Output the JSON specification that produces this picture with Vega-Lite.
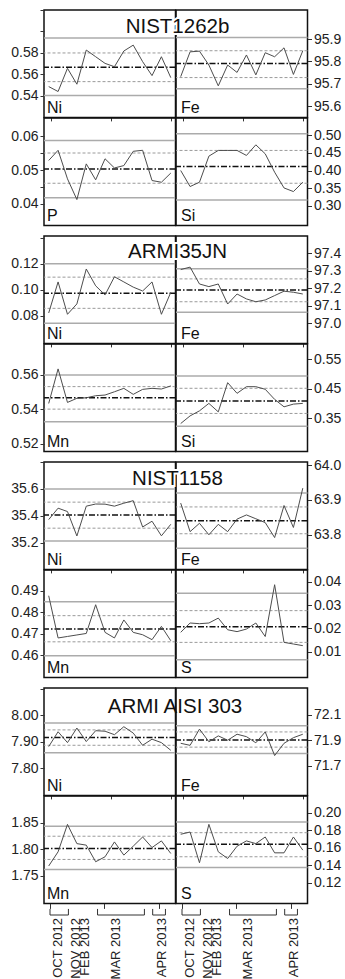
{
"$schema":"https://vega.github.io/schema/vega-lite/v6.json",
"background":"white",
"padding":{"left":10,"top":2,"right":2,"bottom":2},
"config":{
 "font":"Liberation Sans",
 "view":{"stroke":"#111111","strokeWidth":1.5},
 "axis":{"labelFontSize":14,"labelColor":"#222222","tickColor":"#333333","tickWidth":1,"tickSize":4,"labelPadding":2,"domain":false,"grid":false,"labelOverlap":false,"labelFlush":false}
},
"datasets":{
"brackets":[
 {"month":"OCT 2012","start":1.14,"end":3.1},
 {"month":"MAR 2013","start":6.2,"end":11.19},
 {"month":"APR 2013","start":12.07,"end":13.43}
],
"months":[
 {"month":"OCT 2012","pos":2.0},
 {"month":"NOV 2012","pos":3.92},
 {"month":"FEB 2013","pos":4.91},
 {"month":"MAR 2013","pos":8.16},
 {"month":"APR 2013","pos":13.11}
],
"qc":[
{"m":"NIST1262b","el":"Ni","k":"mean","v":0.5667},{"m":"NIST1262b","el":"Ni","k":"warn","v":0.58},{"m":"NIST1262b","el":"Ni","k":"warn","v":0.5533},{"m":"NIST1262b","el":"Ni","k":"ctrl","v":0.594},{"m":"NIST1262b","el":"Ni","k":"ctrl","v":0.5404},
{"m":"NIST1262b","el":"Ni","k":"obs","i":1,"v":0.5487},{"m":"NIST1262b","el":"Ni","k":"obs","i":2,"v":0.5441},{"m":"NIST1262b","el":"Ni","k":"obs","i":3,"v":0.5657},{"m":"NIST1262b","el":"Ni","k":"obs","i":4,"v":0.5509},{"m":"NIST1262b","el":"Ni","k":"obs","i":5,"v":0.5827},{"m":"NIST1262b","el":"Ni","k":"obs","i":6,"v":0.5765},{"m":"NIST1262b","el":"Ni","k":"obs","i":7,"v":0.5703},{"m":"NIST1262b","el":"Ni","k":"obs","i":8,"v":0.5672},{"m":"NIST1262b","el":"Ni","k":"obs","i":9,"v":0.5818},{"m":"NIST1262b","el":"Ni","k":"obs","i":10,"v":0.5873},{"m":"NIST1262b","el":"Ni","k":"obs","i":11,"v":0.5719},{"m":"NIST1262b","el":"Ni","k":"obs","i":12,"v":0.5589},{"m":"NIST1262b","el":"Ni","k":"obs","i":13,"v":0.5765},{"m":"NIST1262b","el":"Ni","k":"obs","i":14,"v":0.557},
{"m":"NIST1262b","el":"Fe","k":"mean","v":95.791},{"m":"NIST1262b","el":"Fe","k":"warn","v":95.848},{"m":"NIST1262b","el":"Fe","k":"warn","v":95.728},{"m":"NIST1262b","el":"Fe","k":"ctrl","v":95.907},{"m":"NIST1262b","el":"Fe","k":"ctrl","v":95.678},
{"m":"NIST1262b","el":"Fe","k":"obs","i":1,"v":95.732},{"m":"NIST1262b","el":"Fe","k":"obs","i":2,"v":95.843},{"m":"NIST1262b","el":"Fe","k":"obs","i":3,"v":95.846},{"m":"NIST1262b","el":"Fe","k":"obs","i":4,"v":95.784},{"m":"NIST1262b","el":"Fe","k":"obs","i":5,"v":95.691},{"m":"NIST1262b","el":"Fe","k":"obs","i":6,"v":95.784},{"m":"NIST1262b","el":"Fe","k":"obs","i":7,"v":95.751},{"m":"NIST1262b","el":"Fe","k":"obs","i":8,"v":95.829},{"m":"NIST1262b","el":"Fe","k":"obs","i":9,"v":95.74},{"m":"NIST1262b","el":"Fe","k":"obs","i":10,"v":95.839},{"m":"NIST1262b","el":"Fe","k":"obs","i":11,"v":95.821},{"m":"NIST1262b","el":"Fe","k":"obs","i":12,"v":95.861},{"m":"NIST1262b","el":"Fe","k":"obs","i":13,"v":95.742},{"m":"NIST1262b","el":"Fe","k":"obs","i":14,"v":95.848},
{"m":"NIST1262b","el":"P","k":"mean","v":0.0503},{"m":"NIST1262b","el":"P","k":"warn","v":0.055},{"m":"NIST1262b","el":"P","k":"warn","v":0.0461},{"m":"NIST1262b","el":"P","k":"ctrl","v":0.0587},{"m":"NIST1262b","el":"P","k":"ctrl","v":0.0418},
{"m":"NIST1262b","el":"P","k":"obs","i":1,"v":0.0528},{"m":"NIST1262b","el":"P","k":"obs","i":2,"v":0.0558},{"m":"NIST1262b","el":"P","k":"obs","i":3,"v":0.0474},{"m":"NIST1262b","el":"P","k":"obs","i":4,"v":0.0413},{"m":"NIST1262b","el":"P","k":"obs","i":5,"v":0.0518},{"m":"NIST1262b","el":"P","k":"obs","i":6,"v":0.0471},{"m":"NIST1262b","el":"P","k":"obs","i":7,"v":0.0533},{"m":"NIST1262b","el":"P","k":"obs","i":8,"v":0.0506},{"m":"NIST1262b","el":"P","k":"obs","i":9,"v":0.0513},{"m":"NIST1262b","el":"P","k":"obs","i":10,"v":0.0555},{"m":"NIST1262b","el":"P","k":"obs","i":11,"v":0.0558},{"m":"NIST1262b","el":"P","k":"obs","i":12,"v":0.0469},{"m":"NIST1262b","el":"P","k":"obs","i":13,"v":0.0464},{"m":"NIST1262b","el":"P","k":"obs","i":14,"v":0.0491},
{"m":"NIST1262b","el":"Si","k":"mean","v":0.4118},{"m":"NIST1262b","el":"Si","k":"warn","v":0.4572},{"m":"NIST1262b","el":"Si","k":"warn","v":0.3643},{"m":"NIST1262b","el":"Si","k":"ctrl","v":0.5044},{"m":"NIST1262b","el":"Si","k":"ctrl","v":0.3169},
{"m":"NIST1262b","el":"Si","k":"obs","i":1,"v":0.4004},{"m":"NIST1262b","el":"Si","k":"obs","i":2,"v":0.355},{"m":"NIST1262b","el":"Si","k":"obs","i":3,"v":0.3672},{"m":"NIST1262b","el":"Si","k":"obs","i":4,"v":0.441},{"m":"NIST1262b","el":"Si","k":"obs","i":5,"v":0.4572},{"m":"NIST1262b","el":"Si","k":"obs","i":6,"v":0.4572},{"m":"NIST1262b","el":"Si","k":"obs","i":7,"v":0.4572},{"m":"NIST1262b","el":"Si","k":"obs","i":8,"v":0.443},{"m":"NIST1262b","el":"Si","k":"obs","i":9,"v":0.4731},{"m":"NIST1262b","el":"Si","k":"obs","i":10,"v":0.4476},{"m":"NIST1262b","el":"Si","k":"obs","i":11,"v":0.3956},{"m":"NIST1262b","el":"Si","k":"obs","i":12,"v":0.351},{"m":"NIST1262b","el":"Si","k":"obs","i":13,"v":0.3408},{"m":"NIST1262b","el":"Si","k":"obs","i":14,"v":0.3672},
{"m":"ARMI35JN","el":"Ni","k":"mean","v":0.0973},{"m":"ARMI35JN","el":"Ni","k":"warn","v":0.1097},{"m":"ARMI35JN","el":"Ni","k":"warn","v":0.0856},{"m":"ARMI35JN","el":"Ni","k":"ctrl","v":0.12},{"m":"ARMI35JN","el":"Ni","k":"ctrl","v":0.074},
{"m":"ARMI35JN","el":"Ni","k":"obs","i":1,"v":0.082},{"m":"ARMI35JN","el":"Ni","k":"obs","i":2,"v":0.106},{"m":"ARMI35JN","el":"Ni","k":"obs","i":3,"v":0.081},{"m":"ARMI35JN","el":"Ni","k":"obs","i":4,"v":0.089},{"m":"ARMI35JN","el":"Ni","k":"obs","i":5,"v":0.116},{"m":"ARMI35JN","el":"Ni","k":"obs","i":6,"v":0.103},{"m":"ARMI35JN","el":"Ni","k":"obs","i":7,"v":0.096},{"m":"ARMI35JN","el":"Ni","k":"obs","i":8,"v":0.11},{"m":"ARMI35JN","el":"Ni","k":"obs","i":9,"v":0.106},{"m":"ARMI35JN","el":"Ni","k":"obs","i":10,"v":0.102},{"m":"ARMI35JN","el":"Ni","k":"obs","i":11,"v":0.099},{"m":"ARMI35JN","el":"Ni","k":"obs","i":12,"v":0.106},{"m":"ARMI35JN","el":"Ni","k":"obs","i":13,"v":0.081},{"m":"ARMI35JN","el":"Ni","k":"obs","i":14,"v":0.098},
{"m":"ARMI35JN","el":"Fe","k":"mean","v":97.19},{"m":"ARMI35JN","el":"Fe","k":"warn","v":97.253},{"m":"ARMI35JN","el":"Fe","k":"warn","v":97.123},{"m":"ARMI35JN","el":"Fe","k":"ctrl","v":97.31},{"m":"ARMI35JN","el":"Fe","k":"ctrl","v":97.063},
{"m":"ARMI35JN","el":"Fe","k":"obs","i":1,"v":97.306},{"m":"ARMI35JN","el":"Fe","k":"obs","i":2,"v":97.32},{"m":"ARMI35JN","el":"Fe","k":"obs","i":3,"v":97.224},{"m":"ARMI35JN","el":"Fe","k":"obs","i":4,"v":97.209},{"m":"ARMI35JN","el":"Fe","k":"obs","i":5,"v":97.224},{"m":"ARMI35JN","el":"Fe","k":"obs","i":6,"v":97.11},{"m":"ARMI35JN","el":"Fe","k":"obs","i":7,"v":97.167},{"m":"ARMI35JN","el":"Fe","k":"obs","i":8,"v":97.139},{"m":"ARMI35JN","el":"Fe","k":"obs","i":9,"v":97.123},{"m":"ARMI35JN","el":"Fe","k":"obs","i":10,"v":97.133},{"m":"ARMI35JN","el":"Fe","k":"obs","i":11,"v":97.158},{"m":"ARMI35JN","el":"Fe","k":"obs","i":12,"v":97.183},{"m":"ARMI35JN","el":"Fe","k":"obs","i":13,"v":97.177},{"m":"ARMI35JN","el":"Fe","k":"obs","i":14,"v":97.167},
{"m":"ARMI35JN","el":"Mn","k":"mean","v":0.5467},{"m":"ARMI35JN","el":"Mn","k":"warn","v":0.5532},{"m":"ARMI35JN","el":"Mn","k":"warn","v":0.5401},{"m":"ARMI35JN","el":"Mn","k":"ctrl","v":0.56},{"m":"ARMI35JN","el":"Mn","k":"ctrl","v":0.5327},
{"m":"ARMI35JN","el":"Mn","k":"obs","i":1,"v":0.5434},{"m":"ARMI35JN","el":"Mn","k":"obs","i":2,"v":0.5635},{"m":"ARMI35JN","el":"Mn","k":"obs","i":3,"v":0.544},{"m":"ARMI35JN","el":"Mn","k":"obs","i":4,"v":0.5464},{"m":"ARMI35JN","el":"Mn","k":"obs","i":5,"v":0.5467},{"m":"ARMI35JN","el":"Mn","k":"obs","i":6,"v":0.5479},{"m":"ARMI35JN","el":"Mn","k":"obs","i":7,"v":0.5483},{"m":"ARMI35JN","el":"Mn","k":"obs","i":8,"v":0.5502},{"m":"ARMI35JN","el":"Mn","k":"obs","i":9,"v":0.5522},{"m":"ARMI35JN","el":"Mn","k":"obs","i":10,"v":0.5487},{"m":"ARMI35JN","el":"Mn","k":"obs","i":11,"v":0.5516},{"m":"ARMI35JN","el":"Mn","k":"obs","i":12,"v":0.5522},{"m":"ARMI35JN","el":"Mn","k":"obs","i":13,"v":0.5518},{"m":"ARMI35JN","el":"Mn","k":"obs","i":14,"v":0.5536},
{"m":"ARMI35JN","el":"Si","k":"mean","v":0.4086},{"m":"ARMI35JN","el":"Si","k":"warn","v":0.4517},{"m":"ARMI35JN","el":"Si","k":"warn","v":0.367},{"m":"ARMI35JN","el":"Si","k":"ctrl","v":0.4933},{"m":"ARMI35JN","el":"Si","k":"ctrl","v":0.3237},
{"m":"ARMI35JN","el":"Si","k":"obs","i":1,"v":0.333},{"m":"ARMI35JN","el":"Si","k":"obs","i":2,"v":0.3588},{"m":"ARMI35JN","el":"Si","k":"obs","i":3,"v":0.3757},{"m":"ARMI35JN","el":"Si","k":"obs","i":4,"v":0.4008},{"m":"ARMI35JN","el":"Si","k":"obs","i":5,"v":0.3723},{"m":"ARMI35JN","el":"Si","k":"obs","i":6,"v":0.4706},{"m":"ARMI35JN","el":"Si","k":"obs","i":7,"v":0.4347},{"m":"ARMI35JN","el":"Si","k":"obs","i":8,"v":0.4571},{"m":"ARMI35JN","el":"Si","k":"obs","i":9,"v":0.4571},{"m":"ARMI35JN","el":"Si","k":"obs","i":10,"v":0.4483},{"m":"ARMI35JN","el":"Si","k":"obs","i":11,"v":0.4144},{"m":"ARMI35JN","el":"Si","k":"obs","i":12,"v":0.3893},{"m":"ARMI35JN","el":"Si","k":"obs","i":13,"v":0.3984},{"m":"ARMI35JN","el":"Si","k":"obs","i":14,"v":0.4008},
{"m":"NIST1158","el":"Ni","k":"mean","v":35.406},{"m":"NIST1158","el":"Ni","k":"warn","v":35.501},{"m":"NIST1158","el":"Ni","k":"warn","v":35.307},{"m":"NIST1158","el":"Ni","k":"ctrl","v":35.598},{"m":"NIST1158","el":"Ni","k":"ctrl","v":35.212},
{"m":"NIST1158","el":"Ni","k":"obs","i":1,"v":35.371},{"m":"NIST1158","el":"Ni","k":"obs","i":2,"v":35.456},{"m":"NIST1158","el":"Ni","k":"obs","i":3,"v":35.431},{"m":"NIST1158","el":"Ni","k":"obs","i":4,"v":35.249},{"m":"NIST1158","el":"Ni","k":"obs","i":5,"v":35.471},{"m":"NIST1158","el":"Ni","k":"obs","i":6,"v":35.487},{"m":"NIST1158","el":"Ni","k":"obs","i":7,"v":35.486},{"m":"NIST1158","el":"Ni","k":"obs","i":8,"v":35.471},{"m":"NIST1158","el":"Ni","k":"obs","i":9,"v":35.493},{"m":"NIST1158","el":"Ni","k":"obs","i":10,"v":35.512},{"m":"NIST1158","el":"Ni","k":"obs","i":11,"v":35.316},{"m":"NIST1158","el":"Ni","k":"obs","i":12,"v":35.359},{"m":"NIST1158","el":"Ni","k":"obs","i":13,"v":35.25},{"m":"NIST1158","el":"Ni","k":"obs","i":14,"v":35.336},
{"m":"NIST1158","el":"Fe","k":"mean","v":63.84},{"m":"NIST1158","el":"Fe","k":"warn","v":63.88},{"m":"NIST1158","el":"Fe","k":"warn","v":63.803},{"m":"NIST1158","el":"Fe","k":"ctrl","v":63.92},{"m":"NIST1158","el":"Fe","k":"ctrl","v":63.761},
{"m":"NIST1158","el":"Fe","k":"obs","i":1,"v":63.891},{"m":"NIST1158","el":"Fe","k":"obs","i":2,"v":63.809},{"m":"NIST1158","el":"Fe","k":"obs","i":3,"v":63.833},{"m":"NIST1158","el":"Fe","k":"obs","i":4,"v":63.8},{"m":"NIST1158","el":"Fe","k":"obs","i":5,"v":63.83},{"m":"NIST1158","el":"Fe","k":"obs","i":6,"v":63.809},{"m":"NIST1158","el":"Fe","k":"obs","i":7,"v":63.845},{"m":"NIST1158","el":"Fe","k":"obs","i":8,"v":63.857},{"m":"NIST1158","el":"Fe","k":"obs","i":9,"v":63.846},{"m":"NIST1158","el":"Fe","k":"obs","i":10,"v":63.835},{"m":"NIST1158","el":"Fe","k":"obs","i":11,"v":63.792},{"m":"NIST1158","el":"Fe","k":"obs","i":12,"v":63.884},{"m":"NIST1158","el":"Fe","k":"obs","i":13,"v":63.821},{"m":"NIST1158","el":"Fe","k":"obs","i":14,"v":63.934},
{"m":"NIST1158","el":"Mn","k":"mean","v":0.4722},{"m":"NIST1158","el":"Mn","k":"warn","v":0.4784},{"m":"NIST1158","el":"Mn","k":"warn","v":0.4662},{"m":"NIST1158","el":"Mn","k":"ctrl","v":0.4849},{"m":"NIST1158","el":"Mn","k":"ctrl","v":0.4597},
{"m":"NIST1158","el":"Mn","k":"obs","i":1,"v":0.4877},{"m":"NIST1158","el":"Mn","k":"obs","i":2,"v":0.468},{"m":"NIST1158","el":"Mn","k":"obs","i":3,"v":0.4687},{"m":"NIST1158","el":"Mn","k":"obs","i":4,"v":0.4694},{"m":"NIST1158","el":"Mn","k":"obs","i":5,"v":0.4701},{"m":"NIST1158","el":"Mn","k":"obs","i":6,"v":0.4835},{"m":"NIST1158","el":"Mn","k":"obs","i":7,"v":0.4706},{"m":"NIST1158","el":"Mn","k":"obs","i":8,"v":0.468},{"m":"NIST1158","el":"Mn","k":"obs","i":9,"v":0.4764},{"m":"NIST1158","el":"Mn","k":"obs","i":10,"v":0.4706},{"m":"NIST1158","el":"Mn","k":"obs","i":11,"v":0.4695},{"m":"NIST1158","el":"Mn","k":"obs","i":12,"v":0.4672},{"m":"NIST1158","el":"Mn","k":"obs","i":13,"v":0.4734},{"m":"NIST1158","el":"Mn","k":"obs","i":14,"v":0.4667},
{"m":"NIST1158","el":"S","k":"mean","v":0.0207},{"m":"NIST1158","el":"S","k":"warn","v":0.0276},{"m":"NIST1158","el":"S","k":"warn","v":0.014},{"m":"NIST1158","el":"S","k":"ctrl","v":0.035},{"m":"NIST1158","el":"S","k":"ctrl","v":0.0066},
{"m":"NIST1158","el":"S","k":"obs","i":1,"v":0.0183},{"m":"NIST1158","el":"S","k":"obs","i":2,"v":0.0223},{"m":"NIST1158","el":"S","k":"obs","i":3,"v":0.022},{"m":"NIST1158","el":"S","k":"obs","i":4,"v":0.0223},{"m":"NIST1158","el":"S","k":"obs","i":5,"v":0.0244},{"m":"NIST1158","el":"S","k":"obs","i":6,"v":0.0194},{"m":"NIST1158","el":"S","k":"obs","i":7,"v":0.0186},{"m":"NIST1158","el":"S","k":"obs","i":8,"v":0.0197},{"m":"NIST1158","el":"S","k":"obs","i":9,"v":0.0223},{"m":"NIST1158","el":"S","k":"obs","i":10,"v":0.0165},{"m":"NIST1158","el":"S","k":"obs","i":11,"v":0.0387},{"m":"NIST1158","el":"S","k":"obs","i":12,"v":0.014},{"m":"NIST1158","el":"S","k":"obs","i":13,"v":0.0133},{"m":"NIST1158","el":"S","k":"obs","i":14,"v":0.0126},
{"m":"ARMI AISI 303","el":"Ni","k":"mean","v":7.915},{"m":"ARMI AISI 303","el":"Ni","k":"warn","v":7.944},{"m":"ARMI AISI 303","el":"Ni","k":"warn","v":7.886},{"m":"ARMI AISI 303","el":"Ni","k":"ctrl","v":7.97},{"m":"ARMI AISI 303","el":"Ni","k":"ctrl","v":7.858},
{"m":"ARMI AISI 303","el":"Ni","k":"obs","i":1,"v":7.881},{"m":"ARMI AISI 303","el":"Ni","k":"obs","i":2,"v":7.937},{"m":"ARMI AISI 303","el":"Ni","k":"obs","i":3,"v":7.896},{"m":"ARMI AISI 303","el":"Ni","k":"obs","i":4,"v":7.951},{"m":"ARMI AISI 303","el":"Ni","k":"obs","i":5,"v":7.9},{"m":"ARMI AISI 303","el":"Ni","k":"obs","i":6,"v":7.941},{"m":"ARMI AISI 303","el":"Ni","k":"obs","i":7,"v":7.939},{"m":"ARMI AISI 303","el":"Ni","k":"obs","i":8,"v":7.926},{"m":"ARMI AISI 303","el":"Ni","k":"obs","i":9,"v":7.956},{"m":"ARMI AISI 303","el":"Ni","k":"obs","i":10,"v":7.932},{"m":"ARMI AISI 303","el":"Ni","k":"obs","i":11,"v":7.886},{"m":"ARMI AISI 303","el":"Ni","k":"obs","i":12,"v":7.909},{"m":"ARMI AISI 303","el":"Ni","k":"obs","i":13,"v":7.896},{"m":"ARMI AISI 303","el":"Ni","k":"obs","i":14,"v":7.867},
{"m":"ARMI AISI 303","el":"Fe","k":"mean","v":71.902},{"m":"ARMI AISI 303","el":"Fe","k":"warn","v":71.965},{"m":"ARMI AISI 303","el":"Fe","k":"warn","v":71.846},{"m":"ARMI AISI 303","el":"Fe","k":"ctrl","v":72.013},{"m":"ARMI AISI 303","el":"Fe","k":"ctrl","v":71.796},
{"m":"ARMI AISI 303","el":"Fe","k":"obs","i":1,"v":71.876},{"m":"ARMI AISI 303","el":"Fe","k":"obs","i":2,"v":71.86},{"m":"ARMI AISI 303","el":"Fe","k":"obs","i":3,"v":71.987},{"m":"ARMI AISI 303","el":"Fe","k":"obs","i":4,"v":71.888},{"m":"ARMI AISI 303","el":"Fe","k":"obs","i":5,"v":71.934},{"m":"ARMI AISI 303","el":"Fe","k":"obs","i":6,"v":71.9},{"m":"ARMI AISI 303","el":"Fe","k":"obs","i":7,"v":71.947},{"m":"ARMI AISI 303","el":"Fe","k":"obs","i":8,"v":71.928},{"m":"ARMI AISI 303","el":"Fe","k":"obs","i":9,"v":71.88},{"m":"ARMI AISI 303","el":"Fe","k":"obs","i":10,"v":71.965},{"m":"ARMI AISI 303","el":"Fe","k":"obs","i":11,"v":71.78},{"m":"ARMI AISI 303","el":"Fe","k":"obs","i":12,"v":71.876},{"m":"ARMI AISI 303","el":"Fe","k":"obs","i":13,"v":71.92},{"m":"ARMI AISI 303","el":"Fe","k":"obs","i":14,"v":71.947},
{"m":"ARMI AISI 303","el":"Mn","k":"mean","v":1.8015},{"m":"ARMI AISI 303","el":"Mn","k":"warn","v":1.8247},{"m":"ARMI AISI 303","el":"Mn","k":"warn","v":1.781},{"m":"ARMI AISI 303","el":"Mn","k":"ctrl","v":1.8433},{"m":"ARMI AISI 303","el":"Mn","k":"ctrl","v":1.7623},
{"m":"ARMI AISI 303","el":"Mn","k":"obs","i":1,"v":1.7687},{"m":"ARMI AISI 303","el":"Mn","k":"obs","i":2,"v":1.7954},{"m":"ARMI AISI 303","el":"Mn","k":"obs","i":3,"v":1.847},{"m":"ARMI AISI 303","el":"Mn","k":"obs","i":4,"v":1.8108},{"m":"ARMI AISI 303","el":"Mn","k":"obs","i":5,"v":1.8079},{"m":"ARMI AISI 303","el":"Mn","k":"obs","i":6,"v":1.7767},{"m":"ARMI AISI 303","el":"Mn","k":"obs","i":7,"v":1.786},{"m":"ARMI AISI 303","el":"Mn","k":"obs","i":8,"v":1.814},{"m":"ARMI AISI 303","el":"Mn","k":"obs","i":9,"v":1.7892},{"m":"ARMI AISI 303","el":"Mn","k":"obs","i":10,"v":1.806},{"m":"ARMI AISI 303","el":"Mn","k":"obs","i":11,"v":1.8233},{"m":"ARMI AISI 303","el":"Mn","k":"obs","i":12,"v":1.8034},{"m":"ARMI AISI 303","el":"Mn","k":"obs","i":13,"v":1.8159},{"m":"ARMI AISI 303","el":"Mn","k":"obs","i":14,"v":1.7922},
{"m":"ARMI AISI 303","el":"S","k":"mean","v":0.164},{"m":"ARMI AISI 303","el":"S","k":"warn","v":0.1772},{"m":"ARMI AISI 303","el":"S","k":"warn","v":0.1496},{"m":"ARMI AISI 303","el":"S","k":"ctrl","v":0.1894},{"m":"ARMI AISI 303","el":"S","k":"ctrl","v":0.1374},
{"m":"ARMI AISI 303","el":"S","k":"obs","i":1,"v":0.1754},{"m":"ARMI AISI 303","el":"S","k":"obs","i":2,"v":0.178},{"m":"ARMI AISI 303","el":"S","k":"obs","i":3,"v":0.1427},{"m":"ARMI AISI 303","el":"S","k":"obs","i":4,"v":0.1868},{"m":"ARMI AISI 303","el":"S","k":"obs","i":5,"v":0.1553},{"m":"ARMI AISI 303","el":"S","k":"obs","i":6,"v":0.1476},{"m":"ARMI AISI 303","el":"S","k":"obs","i":7,"v":0.1617},{"m":"ARMI AISI 303","el":"S","k":"obs","i":8,"v":0.1678},{"m":"ARMI AISI 303","el":"S","k":"obs","i":9,"v":0.1647},{"m":"ARMI AISI 303","el":"S","k":"obs","i":10,"v":0.1723},{"m":"ARMI AISI 303","el":"S","k":"obs","i":11,"v":0.1541},{"m":"ARMI AISI 303","el":"S","k":"obs","i":12,"v":0.1541},{"m":"ARMI AISI 303","el":"S","k":"obs","i":13,"v":0.1723},{"m":"ARMI AISI 303","el":"S","k":"obs","i":14,"v":0.1572}
]},
"data":{"name":"qc"},
"columns":2,"spacing":0,"bounds":"flush",
"concat":[
  {"width":131.5,"height":107.4,"transform":[{"filter":"datum.m==='NIST1262b' && datum.el==='Ni'"}],
   "encoding":{"y":{"field":"v","type":"quantitative","scale":{"domain":[0.52,0.62],"nice":false,"zero":false},"axis":{"orient":"left","values":[0.54,0.56,0.58,0.6,0.62],"format":".2f","labelExpr":"datum.value > 0.59 ? '' : datum.label","title":null}}},
   "layer":[
    {"transform":[{"filter":"datum.k==='ctrl'"}],"mark":{"type":"rule","stroke":"#ababab","strokeWidth":1.5}},
    {"transform":[{"filter":"datum.k==='warn'"}],"mark":{"type":"rule","stroke":"#9a9a9a","strokeWidth":1,"strokeDash":[3,2]}},
    {"transform":[{"filter":"datum.k==='mean'"}],"mark":{"type":"rule","stroke":"#111111","strokeWidth":1.5,"strokeDash":[6,2,1.5,2]}},
    {"transform":[{"filter":"datum.k==='obs'"}],"mark":{"type":"line","stroke":"#4d4d4d","strokeWidth":1},"encoding":{"x":{"field":"i","type":"quantitative","scale":{"domain":[0.5,14.5],"nice":false,"zero":false},"axis":{"orient":"bottom","values":[1.2,2,2.8,3.6,4.4,5.2,6,6.8,7.6,8.4,9.2,10,10.8,11.6,12.4,13.2,14],"labels":false,"tickSize":3.5,"title":null}}}},
    {"transform":[{"filter":"datum.k==='mean'"}],"mark":{"type":"text","align":"left","baseline":"alphabetic","dx":3,"dy":-4,"fontSize":16,"fill":"#111111"},"encoding":{"x":{"datum":0.5,"type":"quantitative","scale":{"domain":[0.5,14.5],"nice":false,"zero":false}},"y":{"datum":0.52,"type":"quantitative","scale":{"domain":[0.52,0.62],"nice":false,"zero":false}},"text":{"field":"el"}}}
   ]},
  {"width":131.5,"height":107.4,"transform":[{"filter":"datum.m==='NIST1262b' && datum.el==='Fe'"}],
   "encoding":{"y":{"field":"v","type":"quantitative","scale":{"domain":[95.55,96.03],"nice":false,"zero":false},"axis":{"orient":"right","values":[95.6,95.7,95.8,95.9],"format":".1f","title":null}}},
   "layer":[
    {"transform":[{"filter":"datum.k==='ctrl'"}],"mark":{"type":"rule","stroke":"#ababab","strokeWidth":1.5}},
    {"transform":[{"filter":"datum.k==='warn'"}],"mark":{"type":"rule","stroke":"#9a9a9a","strokeWidth":1,"strokeDash":[3,2]}},
    {"transform":[{"filter":"datum.k==='mean'"}],"mark":{"type":"rule","stroke":"#111111","strokeWidth":1.5,"strokeDash":[6,2,1.5,2]}},
    {"transform":[{"filter":"datum.k==='obs'"}],"mark":{"type":"line","stroke":"#4d4d4d","strokeWidth":1},"encoding":{"x":{"field":"i","type":"quantitative","scale":{"domain":[0.5,14.5],"nice":false,"zero":false},"axis":{"orient":"bottom","values":[1.2,2,2.8,3.6,4.4,5.2,6,6.8,7.6,8.4,9.2,10,10.8,11.6,12.4,13.2,14],"labels":false,"tickSize":3.5,"title":null}}}},
    {"transform":[{"filter":"datum.k==='mean'"}],"mark":{"type":"text","align":"left","baseline":"alphabetic","dx":5,"dy":-4,"fontSize":16,"fill":"#111111"},"encoding":{"x":{"datum":0.5,"type":"quantitative","scale":{"domain":[0.5,14.5],"nice":false,"zero":false}},"y":{"datum":95.55,"type":"quantitative","scale":{"domain":[95.55,96.03],"nice":false,"zero":false}},"text":{"field":"el"}}},
    {"transform":[{"filter":"datum.k==='mean'"}],"mark":{"type":"text","align":"center","baseline":"alphabetic","dx":1.5,"dy":23,"fontSize":20.5,"fill":"white","stroke":"white","strokeWidth":4},"encoding":{"x":{"datum":0.5,"type":"quantitative","scale":{"domain":[0.5,14.5],"nice":false,"zero":false}},"y":{"datum":96.03,"type":"quantitative","scale":{"domain":[95.55,96.03],"nice":false,"zero":false}},"text":{"field":"m"}}},
    {"transform":[{"filter":"datum.k==='mean'"}],"mark":{"type":"text","align":"center","baseline":"alphabetic","dx":1.5,"dy":23,"fontSize":20.5,"fill":"#111111"},"encoding":{"x":{"datum":0.5,"type":"quantitative","scale":{"domain":[0.5,14.5],"nice":false,"zero":false}},"y":{"datum":96.03,"type":"quantitative","scale":{"domain":[95.55,96.03],"nice":false,"zero":false}},"text":{"field":"m"}}}
   ]},
  {"width":131.5,"height":107.4,"transform":[{"filter":"datum.m==='NIST1262b' && datum.el==='P'"}],
   "encoding":{"y":{"field":"v","type":"quantitative","scale":{"domain":[0.0337,0.0653],"nice":false,"zero":false},"axis":{"orient":"left","values":[0.04,0.045,0.05,0.055,0.06],"format":".2f","labelExpr":"(datum.value == 0.045 || datum.value == 0.055) ? '' : datum.label","title":null}}},
   "layer":[
    {"transform":[{"filter":"datum.k==='ctrl'"}],"mark":{"type":"rule","stroke":"#ababab","strokeWidth":1.5}},
    {"transform":[{"filter":"datum.k==='warn'"}],"mark":{"type":"rule","stroke":"#9a9a9a","strokeWidth":1,"strokeDash":[3,2]}},
    {"transform":[{"filter":"datum.k==='mean'"}],"mark":{"type":"rule","stroke":"#111111","strokeWidth":1.5,"strokeDash":[6,2,1.5,2]}},
    {"transform":[{"filter":"datum.k==='obs'"}],"mark":{"type":"line","stroke":"#4d4d4d","strokeWidth":1},"encoding":{"x":{"field":"i","type":"quantitative","scale":{"domain":[0.5,14.5],"nice":false,"zero":false},"axis":null}}},
    {"transform":[{"filter":"datum.k==='mean'"}],"mark":{"type":"text","align":"left","baseline":"alphabetic","dx":3,"dy":-4,"fontSize":16,"fill":"#111111"},"encoding":{"x":{"datum":0.5,"type":"quantitative","scale":{"domain":[0.5,14.5],"nice":false,"zero":false}},"y":{"datum":0.0337,"type":"quantitative","scale":{"domain":[0.0337,0.0653],"nice":false,"zero":false}},"text":{"field":"el"}}}
   ]},
  {"width":131.5,"height":107.4,"transform":[{"filter":"datum.m==='NIST1262b' && datum.el==='Si'"}],
   "encoding":{"y":{"field":"v","type":"quantitative","scale":{"domain":[0.245,0.549],"nice":false,"zero":false},"axis":{"orient":"right","values":[0.3,0.35,0.4,0.45,0.5],"format":".2f","title":null}}},
   "layer":[
    {"transform":[{"filter":"datum.k==='ctrl'"}],"mark":{"type":"rule","stroke":"#ababab","strokeWidth":1.5}},
    {"transform":[{"filter":"datum.k==='warn'"}],"mark":{"type":"rule","stroke":"#9a9a9a","strokeWidth":1,"strokeDash":[3,2]}},
    {"transform":[{"filter":"datum.k==='mean'"}],"mark":{"type":"rule","stroke":"#111111","strokeWidth":1.5,"strokeDash":[6,2,1.5,2]}},
    {"transform":[{"filter":"datum.k==='obs'"}],"mark":{"type":"line","stroke":"#4d4d4d","strokeWidth":1},"encoding":{"x":{"field":"i","type":"quantitative","scale":{"domain":[0.5,14.5],"nice":false,"zero":false},"axis":null}}},
    {"transform":[{"filter":"datum.k==='mean'"}],"mark":{"type":"text","align":"left","baseline":"alphabetic","dx":5,"dy":-4,"fontSize":16,"fill":"#111111"},"encoding":{"x":{"datum":0.5,"type":"quantitative","scale":{"domain":[0.5,14.5],"nice":false,"zero":false}},"y":{"datum":0.245,"type":"quantitative","scale":{"domain":[0.245,0.549],"nice":false,"zero":false}},"text":{"field":"el"}}}
   ]},
  {"width":131.5,"height":10,"view":{"stroke":null},"transform":[{"filter":"datum.k==='none'"}],"mark":{"type":"point","opacity":0},"encoding":{}},
  {"width":131.5,"height":10,"view":{"stroke":null},"transform":[{"filter":"datum.k==='none'"}],"mark":{"type":"point","opacity":0},"encoding":{}},
  {"width":131.5,"height":107.4,"transform":[{"filter":"datum.m==='ARMI35JN' && datum.el==='Ni'"}],
   "encoding":{"y":{"field":"v","type":"quantitative","scale":{"domain":[0.0585,0.1415],"nice":false,"zero":false},"axis":{"orient":"left","values":[0.08,0.1,0.12,0.14],"format":".2f","labelExpr":"datum.value > 0.13 ? '' : datum.label","title":null}}},
   "layer":[
    {"transform":[{"filter":"datum.k==='ctrl'"}],"mark":{"type":"rule","stroke":"#ababab","strokeWidth":1.5}},
    {"transform":[{"filter":"datum.k==='warn'"}],"mark":{"type":"rule","stroke":"#9a9a9a","strokeWidth":1,"strokeDash":[3,2]}},
    {"transform":[{"filter":"datum.k==='mean'"}],"mark":{"type":"rule","stroke":"#111111","strokeWidth":1.5,"strokeDash":[6,2,1.5,2]}},
    {"transform":[{"filter":"datum.k==='obs'"}],"mark":{"type":"line","stroke":"#4d4d4d","strokeWidth":1},"encoding":{"x":{"field":"i","type":"quantitative","scale":{"domain":[0.5,14.5],"nice":false,"zero":false},"axis":{"orient":"bottom","values":[1.2,2,2.8,3.6,4.4,5.2,6,6.8,7.6,8.4,9.2,10,10.8,11.6,12.4,13.2,14],"labels":false,"tickSize":3.5,"title":null}}}},
    {"transform":[{"filter":"datum.k==='mean'"}],"mark":{"type":"text","align":"left","baseline":"alphabetic","dx":3,"dy":-4,"fontSize":16,"fill":"#111111"},"encoding":{"x":{"datum":0.5,"type":"quantitative","scale":{"domain":[0.5,14.5],"nice":false,"zero":false}},"y":{"datum":0.0585,"type":"quantitative","scale":{"domain":[0.0585,0.1415],"nice":false,"zero":false}},"text":{"field":"el"}}}
   ]},
  {"width":131.5,"height":107.4,"transform":[{"filter":"datum.m==='ARMI35JN' && datum.el==='Fe'"}],
   "encoding":{"y":{"field":"v","type":"quantitative","scale":{"domain":[96.886,97.497],"nice":false,"zero":false},"axis":{"orient":"right","values":[97.0,97.1,97.2,97.3,97.4],"format":".1f","title":null}}},
   "layer":[
    {"transform":[{"filter":"datum.k==='ctrl'"}],"mark":{"type":"rule","stroke":"#ababab","strokeWidth":1.5}},
    {"transform":[{"filter":"datum.k==='warn'"}],"mark":{"type":"rule","stroke":"#9a9a9a","strokeWidth":1,"strokeDash":[3,2]}},
    {"transform":[{"filter":"datum.k==='mean'"}],"mark":{"type":"rule","stroke":"#111111","strokeWidth":1.5,"strokeDash":[6,2,1.5,2]}},
    {"transform":[{"filter":"datum.k==='obs'"}],"mark":{"type":"line","stroke":"#4d4d4d","strokeWidth":1},"encoding":{"x":{"field":"i","type":"quantitative","scale":{"domain":[0.5,14.5],"nice":false,"zero":false},"axis":{"orient":"bottom","values":[1.2,2,2.8,3.6,4.4,5.2,6,6.8,7.6,8.4,9.2,10,10.8,11.6,12.4,13.2,14],"labels":false,"tickSize":3.5,"title":null}}}},
    {"transform":[{"filter":"datum.k==='mean'"}],"mark":{"type":"text","align":"left","baseline":"alphabetic","dx":5,"dy":-4,"fontSize":16,"fill":"#111111"},"encoding":{"x":{"datum":0.5,"type":"quantitative","scale":{"domain":[0.5,14.5],"nice":false,"zero":false}},"y":{"datum":96.886,"type":"quantitative","scale":{"domain":[96.886,97.497],"nice":false,"zero":false}},"text":{"field":"el"}}},
    {"transform":[{"filter":"datum.k==='mean'"}],"mark":{"type":"text","align":"center","baseline":"alphabetic","dx":1.5,"dy":22,"fontSize":20.5,"fill":"white","stroke":"white","strokeWidth":4},"encoding":{"x":{"datum":0.5,"type":"quantitative","scale":{"domain":[0.5,14.5],"nice":false,"zero":false}},"y":{"datum":97.497,"type":"quantitative","scale":{"domain":[96.886,97.497],"nice":false,"zero":false}},"text":{"field":"m"}}},
    {"transform":[{"filter":"datum.k==='mean'"}],"mark":{"type":"text","align":"center","baseline":"alphabetic","dx":1.5,"dy":22,"fontSize":20.5,"fill":"#111111"},"encoding":{"x":{"datum":0.5,"type":"quantitative","scale":{"domain":[0.5,14.5],"nice":false,"zero":false}},"y":{"datum":97.497,"type":"quantitative","scale":{"domain":[96.886,97.497],"nice":false,"zero":false}},"text":{"field":"m"}}}
   ]},
  {"width":131.5,"height":107.4,"transform":[{"filter":"datum.m==='ARMI35JN' && datum.el==='Mn'"}],
   "encoding":{"y":{"field":"v","type":"quantitative","scale":{"domain":[0.5155,0.578],"nice":false,"zero":false},"axis":{"orient":"left","values":[0.52,0.54,0.56],"format":".2f","title":null}}},
   "layer":[
    {"transform":[{"filter":"datum.k==='ctrl'"}],"mark":{"type":"rule","stroke":"#ababab","strokeWidth":1.5}},
    {"transform":[{"filter":"datum.k==='warn'"}],"mark":{"type":"rule","stroke":"#9a9a9a","strokeWidth":1,"strokeDash":[3,2]}},
    {"transform":[{"filter":"datum.k==='mean'"}],"mark":{"type":"rule","stroke":"#111111","strokeWidth":1.5,"strokeDash":[6,2,1.5,2]}},
    {"transform":[{"filter":"datum.k==='obs'"}],"mark":{"type":"line","stroke":"#4d4d4d","strokeWidth":1},"encoding":{"x":{"field":"i","type":"quantitative","scale":{"domain":[0.5,14.5],"nice":false,"zero":false},"axis":null}}},
    {"transform":[{"filter":"datum.k==='mean'"}],"mark":{"type":"text","align":"left","baseline":"alphabetic","dx":3,"dy":-4,"fontSize":16,"fill":"#111111"},"encoding":{"x":{"datum":0.5,"type":"quantitative","scale":{"domain":[0.5,14.5],"nice":false,"zero":false}},"y":{"datum":0.5155,"type":"quantitative","scale":{"domain":[0.5155,0.578],"nice":false,"zero":false}},"text":{"field":"el"}}}
   ]},
  {"width":131.5,"height":107.4,"transform":[{"filter":"datum.m==='ARMI35JN' && datum.el==='Si'"}],
   "encoding":{"y":{"field":"v","type":"quantitative","scale":{"domain":[0.2392,0.6008],"nice":false,"zero":false},"axis":{"orient":"right","values":[0.35,0.45,0.55],"format":".2f","title":null}}},
   "layer":[
    {"transform":[{"filter":"datum.k==='ctrl'"}],"mark":{"type":"rule","stroke":"#ababab","strokeWidth":1.5}},
    {"transform":[{"filter":"datum.k==='warn'"}],"mark":{"type":"rule","stroke":"#9a9a9a","strokeWidth":1,"strokeDash":[3,2]}},
    {"transform":[{"filter":"datum.k==='mean'"}],"mark":{"type":"rule","stroke":"#111111","strokeWidth":1.5,"strokeDash":[6,2,1.5,2]}},
    {"transform":[{"filter":"datum.k==='obs'"}],"mark":{"type":"line","stroke":"#4d4d4d","strokeWidth":1},"encoding":{"x":{"field":"i","type":"quantitative","scale":{"domain":[0.5,14.5],"nice":false,"zero":false},"axis":null}}},
    {"transform":[{"filter":"datum.k==='mean'"}],"mark":{"type":"text","align":"left","baseline":"alphabetic","dx":5,"dy":-4,"fontSize":16,"fill":"#111111"},"encoding":{"x":{"datum":0.5,"type":"quantitative","scale":{"domain":[0.5,14.5],"nice":false,"zero":false}},"y":{"datum":0.2392,"type":"quantitative","scale":{"domain":[0.2392,0.6008],"nice":false,"zero":false}},"text":{"field":"el"}}}
   ]},
  {"width":131.5,"height":10,"view":{"stroke":null},"transform":[{"filter":"datum.k==='none'"}],"mark":{"type":"point","opacity":0},"encoding":{}},
  {"width":131.5,"height":10,"view":{"stroke":null},"transform":[{"filter":"datum.k==='none'"}],"mark":{"type":"point","opacity":0},"encoding":{}},
  {"width":131.5,"height":107.4,"transform":[{"filter":"datum.m==='NIST1158' && datum.el==='Ni'"}],
   "encoding":{"y":{"field":"v","type":"quantitative","scale":{"domain":[35.0,35.8],"nice":false,"zero":false},"axis":{"orient":"left","values":[35.2,35.4,35.6,35.8],"format":".1f","labelExpr":"datum.value > 35.7 ? '' : datum.label","title":null}}},
   "layer":[
    {"transform":[{"filter":"datum.k==='ctrl'"}],"mark":{"type":"rule","stroke":"#ababab","strokeWidth":1.5}},
    {"transform":[{"filter":"datum.k==='warn'"}],"mark":{"type":"rule","stroke":"#9a9a9a","strokeWidth":1,"strokeDash":[3,2]}},
    {"transform":[{"filter":"datum.k==='mean'"}],"mark":{"type":"rule","stroke":"#111111","strokeWidth":1.5,"strokeDash":[6,2,1.5,2]}},
    {"transform":[{"filter":"datum.k==='obs'"}],"mark":{"type":"line","stroke":"#4d4d4d","strokeWidth":1},"encoding":{"x":{"field":"i","type":"quantitative","scale":{"domain":[0.5,14.5],"nice":false,"zero":false},"axis":{"orient":"bottom","values":[1.2,2,2.8,3.6,4.4,5.2,6,6.8,7.6,8.4,9.2,10,10.8,11.6,12.4,13.2,14],"labels":false,"tickSize":3.5,"title":null}}}},
    {"transform":[{"filter":"datum.k==='mean'"}],"mark":{"type":"text","align":"left","baseline":"alphabetic","dx":3,"dy":-4,"fontSize":16,"fill":"#111111"},"encoding":{"x":{"datum":0.5,"type":"quantitative","scale":{"domain":[0.5,14.5],"nice":false,"zero":false}},"y":{"datum":35.0,"type":"quantitative","scale":{"domain":[35.0,35.8],"nice":false,"zero":false}},"text":{"field":"el"}}}
   ]},
  {"width":131.5,"height":107.4,"transform":[{"filter":"datum.m==='NIST1158' && datum.el==='Fe'"}],
   "encoding":{"y":{"field":"v","type":"quantitative","scale":{"domain":[63.7006,64.009],"nice":false,"zero":false},"axis":{"orient":"right","values":[63.8,63.9,64.0],"format":".1f","title":null}}},
   "layer":[
    {"transform":[{"filter":"datum.k==='ctrl'"}],"mark":{"type":"rule","stroke":"#ababab","strokeWidth":1.5}},
    {"transform":[{"filter":"datum.k==='warn'"}],"mark":{"type":"rule","stroke":"#9a9a9a","strokeWidth":1,"strokeDash":[3,2]}},
    {"transform":[{"filter":"datum.k==='mean'"}],"mark":{"type":"rule","stroke":"#111111","strokeWidth":1.5,"strokeDash":[6,2,1.5,2]}},
    {"transform":[{"filter":"datum.k==='obs'"}],"mark":{"type":"line","stroke":"#4d4d4d","strokeWidth":1},"encoding":{"x":{"field":"i","type":"quantitative","scale":{"domain":[0.5,14.5],"nice":false,"zero":false},"axis":{"orient":"bottom","values":[1.2,2,2.8,3.6,4.4,5.2,6,6.8,7.6,8.4,9.2,10,10.8,11.6,12.4,13.2,14],"labels":false,"tickSize":3.5,"title":null}}}},
    {"transform":[{"filter":"datum.k==='mean'"}],"mark":{"type":"text","align":"left","baseline":"alphabetic","dx":5,"dy":-4,"fontSize":16,"fill":"#111111"},"encoding":{"x":{"datum":0.5,"type":"quantitative","scale":{"domain":[0.5,14.5],"nice":false,"zero":false}},"y":{"datum":63.7006,"type":"quantitative","scale":{"domain":[63.7006,64.009],"nice":false,"zero":false}},"text":{"field":"el"}}},
    {"transform":[{"filter":"datum.k==='mean'"}],"mark":{"type":"text","align":"center","baseline":"alphabetic","dx":1.5,"dy":23,"fontSize":20.5,"fill":"white","stroke":"white","strokeWidth":4},"encoding":{"x":{"datum":0.5,"type":"quantitative","scale":{"domain":[0.5,14.5],"nice":false,"zero":false}},"y":{"datum":64.009,"type":"quantitative","scale":{"domain":[63.7006,64.009],"nice":false,"zero":false}},"text":{"field":"m"}}},
    {"transform":[{"filter":"datum.k==='mean'"}],"mark":{"type":"text","align":"center","baseline":"alphabetic","dx":1.5,"dy":23,"fontSize":20.5,"fill":"#111111"},"encoding":{"x":{"datum":0.5,"type":"quantitative","scale":{"domain":[0.5,14.5],"nice":false,"zero":false}},"y":{"datum":64.009,"type":"quantitative","scale":{"domain":[63.7006,64.009],"nice":false,"zero":false}},"text":{"field":"m"}}}
   ]},
  {"width":131.5,"height":107.4,"transform":[{"filter":"datum.m==='NIST1158' && datum.el==='Mn'"}],
   "encoding":{"y":{"field":"v","type":"quantitative","scale":{"domain":[0.4496,0.4997],"nice":false,"zero":false},"axis":{"orient":"left","values":[0.46,0.47,0.48,0.49],"format":".2f","title":null}}},
   "layer":[
    {"transform":[{"filter":"datum.k==='ctrl'"}],"mark":{"type":"rule","stroke":"#ababab","strokeWidth":1.5}},
    {"transform":[{"filter":"datum.k==='warn'"}],"mark":{"type":"rule","stroke":"#9a9a9a","strokeWidth":1,"strokeDash":[3,2]}},
    {"transform":[{"filter":"datum.k==='mean'"}],"mark":{"type":"rule","stroke":"#111111","strokeWidth":1.5,"strokeDash":[6,2,1.5,2]}},
    {"transform":[{"filter":"datum.k==='obs'"}],"mark":{"type":"line","stroke":"#4d4d4d","strokeWidth":1},"encoding":{"x":{"field":"i","type":"quantitative","scale":{"domain":[0.5,14.5],"nice":false,"zero":false},"axis":null}}},
    {"transform":[{"filter":"datum.k==='mean'"}],"mark":{"type":"text","align":"left","baseline":"alphabetic","dx":3,"dy":-4,"fontSize":16,"fill":"#111111"},"encoding":{"x":{"datum":0.5,"type":"quantitative","scale":{"domain":[0.5,14.5],"nice":false,"zero":false}},"y":{"datum":0.4496,"type":"quantitative","scale":{"domain":[0.4496,0.4997],"nice":false,"zero":false}},"text":{"field":"el"}}}
   ]},
  {"width":131.5,"height":107.4,"transform":[{"filter":"datum.m==='NIST1158' && datum.el==='S'"}],
   "encoding":{"y":{"field":"v","type":"quantitative","scale":{"domain":[-0.001,0.045],"nice":false,"zero":false},"axis":{"orient":"right","values":[0.01,0.02,0.03,0.04],"format":".2f","title":null}}},
   "layer":[
    {"transform":[{"filter":"datum.k==='ctrl'"}],"mark":{"type":"rule","stroke":"#ababab","strokeWidth":1.5}},
    {"transform":[{"filter":"datum.k==='warn'"}],"mark":{"type":"rule","stroke":"#9a9a9a","strokeWidth":1,"strokeDash":[3,2]}},
    {"transform":[{"filter":"datum.k==='mean'"}],"mark":{"type":"rule","stroke":"#111111","strokeWidth":1.5,"strokeDash":[6,2,1.5,2]}},
    {"transform":[{"filter":"datum.k==='obs'"}],"mark":{"type":"line","stroke":"#4d4d4d","strokeWidth":1},"encoding":{"x":{"field":"i","type":"quantitative","scale":{"domain":[0.5,14.5],"nice":false,"zero":false},"axis":null}}},
    {"transform":[{"filter":"datum.k==='mean'"}],"mark":{"type":"text","align":"left","baseline":"alphabetic","dx":5,"dy":-4,"fontSize":16,"fill":"#111111"},"encoding":{"x":{"datum":0.5,"type":"quantitative","scale":{"domain":[0.5,14.5],"nice":false,"zero":false}},"y":{"datum":-0.001,"type":"quantitative","scale":{"domain":[-0.001,0.045],"nice":false,"zero":false}},"text":{"field":"el"}}}
   ]},
  {"width":131.5,"height":10,"view":{"stroke":null},"transform":[{"filter":"datum.k==='none'"}],"mark":{"type":"point","opacity":0},"encoding":{}},
  {"width":131.5,"height":10,"view":{"stroke":null},"transform":[{"filter":"datum.k==='none'"}],"mark":{"type":"point","opacity":0},"encoding":{}},
  {"width":131.5,"height":107.4,"transform":[{"filter":"datum.m==='ARMI AISI 303' && datum.el==='Ni'"}],
   "encoding":{"y":{"field":"v","type":"quantitative","scale":{"domain":[7.697,8.102],"nice":false,"zero":false},"axis":{"orient":"left","values":[7.8,7.9,8.0,8.1],"format":".2f","labelExpr":"datum.value > 8.05 ? '' : datum.label","title":null}}},
   "layer":[
    {"transform":[{"filter":"datum.k==='ctrl'"}],"mark":{"type":"rule","stroke":"#ababab","strokeWidth":1.5}},
    {"transform":[{"filter":"datum.k==='warn'"}],"mark":{"type":"rule","stroke":"#9a9a9a","strokeWidth":1,"strokeDash":[3,2]}},
    {"transform":[{"filter":"datum.k==='mean'"}],"mark":{"type":"rule","stroke":"#111111","strokeWidth":1.5,"strokeDash":[6,2,1.5,2]}},
    {"transform":[{"filter":"datum.k==='obs'"}],"mark":{"type":"line","stroke":"#4d4d4d","strokeWidth":1},"encoding":{"x":{"field":"i","type":"quantitative","scale":{"domain":[0.5,14.5],"nice":false,"zero":false},"axis":{"orient":"bottom","values":[1.2,2,2.8,3.6,4.4,5.2,6,6.8,7.6,8.4,9.2,10,10.8,11.6,12.4,13.2,14],"labels":false,"tickSize":3.5,"title":null}}}},
    {"transform":[{"filter":"datum.k==='mean'"}],"mark":{"type":"text","align":"left","baseline":"alphabetic","dx":3,"dy":-4,"fontSize":16,"fill":"#111111"},"encoding":{"x":{"datum":0.5,"type":"quantitative","scale":{"domain":[0.5,14.5],"nice":false,"zero":false}},"y":{"datum":7.697,"type":"quantitative","scale":{"domain":[7.697,8.102],"nice":false,"zero":false}},"text":{"field":"el"}}},
    {"transform":[{"filter":"datum.k==='mean'"}],"mark":{"type":"text","align":"center","baseline":"alphabetic","dx":-0.5,"dy":25,"fontSize":20.5,"fill":"#111111"},"encoding":{"x":{"datum":14.5,"type":"quantitative","scale":{"domain":[0.5,14.5],"nice":false,"zero":false}},"y":{"datum":8.102,"type":"quantitative","scale":{"domain":[7.697,8.102],"nice":false,"zero":false}},"text":{"field":"m"}}}
   ]},
  {"width":131.5,"height":107.4,"transform":[{"filter":"datum.m==='ARMI AISI 303' && datum.el==='Fe'"}],
   "encoding":{"y":{"field":"v","type":"quantitative","scale":{"domain":[71.468,72.309],"nice":false,"zero":false},"axis":{"orient":"right","values":[71.7,71.9,72.1],"format":".1f","title":null}}},
   "layer":[
    {"transform":[{"filter":"datum.k==='ctrl'"}],"mark":{"type":"rule","stroke":"#ababab","strokeWidth":1.5}},
    {"transform":[{"filter":"datum.k==='warn'"}],"mark":{"type":"rule","stroke":"#9a9a9a","strokeWidth":1,"strokeDash":[3,2]}},
    {"transform":[{"filter":"datum.k==='mean'"}],"mark":{"type":"rule","stroke":"#111111","strokeWidth":1.5,"strokeDash":[6,2,1.5,2]}},
    {"transform":[{"filter":"datum.k==='obs'"}],"mark":{"type":"line","stroke":"#4d4d4d","strokeWidth":1},"encoding":{"x":{"field":"i","type":"quantitative","scale":{"domain":[0.5,14.5],"nice":false,"zero":false},"axis":{"orient":"bottom","values":[1.2,2,2.8,3.6,4.4,5.2,6,6.8,7.6,8.4,9.2,10,10.8,11.6,12.4,13.2,14],"labels":false,"tickSize":3.5,"title":null}}}},
    {"transform":[{"filter":"datum.k==='mean'"}],"mark":{"type":"text","align":"left","baseline":"alphabetic","dx":5,"dy":-4,"fontSize":16,"fill":"#111111"},"encoding":{"x":{"datum":0.5,"type":"quantitative","scale":{"domain":[0.5,14.5],"nice":false,"zero":false}},"y":{"datum":71.468,"type":"quantitative","scale":{"domain":[71.468,72.309],"nice":false,"zero":false}},"text":{"field":"el"}}}
   ]},
  {"width":131.5,"height":107.4,"transform":[{"filter":"datum.m==='ARMI AISI 303' && datum.el==='Mn'"}],
   "encoding":{"y":{"field":"v","type":"quantitative","scale":{"domain":[1.6983,1.9004],"nice":false,"zero":false},"axis":{"orient":"left","values":[1.75,1.8,1.85],"format":".2f","title":null}}},
   "layer":[
    {"transform":[{"filter":"datum.k==='ctrl'"}],"mark":{"type":"rule","stroke":"#ababab","strokeWidth":1.5}},
    {"transform":[{"filter":"datum.k==='warn'"}],"mark":{"type":"rule","stroke":"#9a9a9a","strokeWidth":1,"strokeDash":[3,2]}},
    {"transform":[{"filter":"datum.k==='mean'"}],"mark":{"type":"rule","stroke":"#111111","strokeWidth":1.5,"strokeDash":[6,2,1.5,2]}},
    {"transform":[{"filter":"datum.k==='obs'"}],"mark":{"type":"line","stroke":"#4d4d4d","strokeWidth":1},"encoding":{"x":{"field":"i","type":"quantitative","scale":{"domain":[0.5,14.5],"nice":false,"zero":false},"axis":{"orient":"bottom","values":[1.14,1.81,2.46,3.1,3.81,4.49,5.2,6.2,6.91,7.63,8.33,9.05,9.77,10.47,11.19,12.07,12.71,13.43,14.04],"labels":false,"tickSize":5,"title":null}}}},
    {"transform":[{"filter":"datum.k==='mean'"}],"mark":{"type":"text","align":"left","baseline":"alphabetic","dx":3,"dy":-4,"fontSize":16,"fill":"#111111"},"encoding":{"x":{"datum":0.5,"type":"quantitative","scale":{"domain":[0.5,14.5],"nice":false,"zero":false}},"y":{"datum":1.6983,"type":"quantitative","scale":{"domain":[1.6983,1.9004],"nice":false,"zero":false}},"text":{"field":"el"}}}
   ]},
  {"width":131.5,"height":107.4,"transform":[{"filter":"datum.m==='ARMI AISI 303' && datum.el==='S'"}],
   "encoding":{"y":{"field":"v","type":"quantitative","scale":{"domain":[0.0961,0.2193],"nice":false,"zero":false},"axis":{"orient":"right","values":[0.12,0.14,0.16,0.18,0.2],"format":".2f","title":null}}},
   "layer":[
    {"transform":[{"filter":"datum.k==='ctrl'"}],"mark":{"type":"rule","stroke":"#ababab","strokeWidth":1.5}},
    {"transform":[{"filter":"datum.k==='warn'"}],"mark":{"type":"rule","stroke":"#9a9a9a","strokeWidth":1,"strokeDash":[3,2]}},
    {"transform":[{"filter":"datum.k==='mean'"}],"mark":{"type":"rule","stroke":"#111111","strokeWidth":1.5,"strokeDash":[6,2,1.5,2]}},
    {"transform":[{"filter":"datum.k==='obs'"}],"mark":{"type":"line","stroke":"#4d4d4d","strokeWidth":1},"encoding":{"x":{"field":"i","type":"quantitative","scale":{"domain":[0.5,14.5],"nice":false,"zero":false},"axis":{"orient":"bottom","values":[1.14,1.81,2.46,3.1,3.81,4.49,5.2,6.2,6.91,7.63,8.33,9.05,9.77,10.47,11.19,12.07,12.71,13.43,14.04],"labels":false,"tickSize":5,"title":null}}}},
    {"transform":[{"filter":"datum.k==='mean'"}],"mark":{"type":"text","align":"left","baseline":"alphabetic","dx":5,"dy":-4,"fontSize":16,"fill":"#111111"},"encoding":{"x":{"datum":0.5,"type":"quantitative","scale":{"domain":[0.5,14.5],"nice":false,"zero":false}},"y":{"datum":0.0961,"type":"quantitative","scale":{"domain":[0.0961,0.2193],"nice":false,"zero":false}},"text":{"field":"el"}}}
   ]},
  {"width":131.5,"height":11,"view":{"stroke":null},"data":{"name":"brackets"},
   "layer":[
    {"mark":{"type":"rule","stroke":"#333333","strokeWidth":1},"encoding":{"x":{"field":"start","type":"quantitative","scale":{"domain":[0.5,14.5],"nice":false,"zero":false},"axis":null},"x2":{"field":"end"},"y":{"datum":0,"type":"quantitative","scale":{"domain":[0,1],"nice":false,"zero":false},"axis":null}}},
    {"transform":[{"fold":["start","end"],"as":["side","pos"]}],"mark":{"type":"rule","stroke":"#333333","strokeWidth":1},"encoding":{"x":{"field":"pos","type":"quantitative","scale":{"domain":[0.5,14.5],"nice":false,"zero":false},"axis":null},"y":{"datum":0,"type":"quantitative","scale":{"domain":[0,1],"nice":false,"zero":false},"axis":null},"y2":{"datum":0.55}}},
    {"data":{"name":"months"},"mark":{"type":"text","angle":270,"align":"right","baseline":"middle","dx":-3,"fontSize":13,"fill":"#222222"},"encoding":{"x":{"field":"pos","type":"quantitative","scale":{"domain":[0.5,14.5],"nice":false,"zero":false},"axis":null},"y":{"datum":0,"type":"quantitative","scale":{"domain":[0,1],"nice":false,"zero":false},"axis":null},"text":{"field":"month"}}}
   ]},
  {"width":131.5,"height":11,"view":{"stroke":null},"data":{"name":"brackets"},
   "layer":[
    {"mark":{"type":"rule","stroke":"#333333","strokeWidth":1},"encoding":{"x":{"field":"start","type":"quantitative","scale":{"domain":[0.5,14.5],"nice":false,"zero":false},"axis":null},"x2":{"field":"end"},"y":{"datum":0,"type":"quantitative","scale":{"domain":[0,1],"nice":false,"zero":false},"axis":null}}},
    {"transform":[{"fold":["start","end"],"as":["side","pos"]}],"mark":{"type":"rule","stroke":"#333333","strokeWidth":1},"encoding":{"x":{"field":"pos","type":"quantitative","scale":{"domain":[0.5,14.5],"nice":false,"zero":false},"axis":null},"y":{"datum":0,"type":"quantitative","scale":{"domain":[0,1],"nice":false,"zero":false},"axis":null},"y2":{"datum":0.55}}},
    {"data":{"name":"months"},"mark":{"type":"text","angle":270,"align":"right","baseline":"middle","dx":-3,"fontSize":13,"fill":"#222222"},"encoding":{"x":{"field":"pos","type":"quantitative","scale":{"domain":[0.5,14.5],"nice":false,"zero":false},"axis":null},"y":{"datum":0,"type":"quantitative","scale":{"domain":[0,1],"nice":false,"zero":false},"axis":null},"text":{"field":"month"}}}
   ]}
]
}
